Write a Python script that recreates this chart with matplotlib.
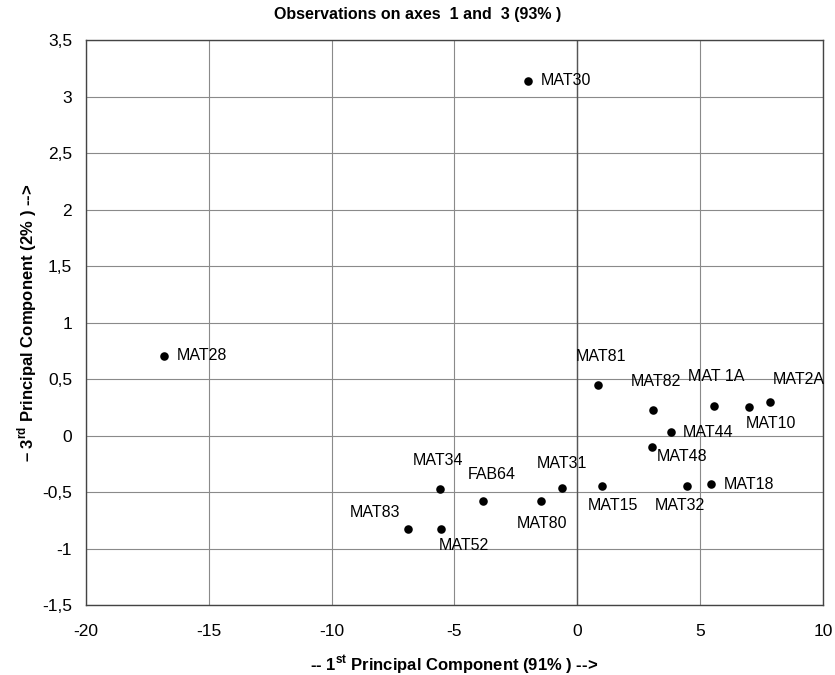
import matplotlib
matplotlib.use('Agg')
import matplotlib.pyplot as plt

plt.rcParams['font.family'] = ['Liberation Sans', 'DejaVu Sans']
plt.rcParams['mathtext.fontset'] = 'custom'
plt.rcParams['mathtext.rm'] = 'Liberation Sans'
plt.rcParams['mathtext.bf'] = 'Liberation Sans:bold'

# observations: coordinates on axis 1 (x) and axis 3 (y)
names = ['MAT30', 'MAT28', 'MAT81', 'MAT82', 'MAT 1A', 'MAT10', 'MAT2A', 'MAT44',
         'MAT48', 'MAT18', 'MAT32', 'MAT15', 'MAT31', 'MAT80', 'FAB64', 'MAT34',
         'MAT52', 'MAT83']
pc1 = [-1.99, -16.81, 0.86, 3.09, 5.58, 6.97, 7.86, 3.80,
       3.02, 5.45, 4.45, 1.00, -0.63, -1.48, -3.83, -5.61,
       -5.53, -6.89]
pc3 = [3.14, 0.705, 0.45, 0.23, 0.26, 0.255, 0.30, 0.03,
       -0.10, -0.43, -0.45, -0.45, -0.465, -0.58, -0.58, -0.47,
       -0.83, -0.83]

xticks = [-20, -15, -10, -5, 0, 5, 10]
yticks = [-1.5, -1, -0.5, 0, 0.5, 1, 1.5, 2, 2.5, 3, 3.5]

# label placement (offset in points, alignment)
label_pos = {
    'MAT30': ((9, 0), 'left', 'center'),
    'MAT28': ((9, 0), 'left', 'center'),
    'MAT81': ((2, 20), 'center', 'center'),
    'MAT82': ((2, 20), 'center', 'center'),
    'MAT 1A': ((1, 21), 'center', 'center'),
    'MAT10': ((16, -12), 'center', 'center'),
    'MAT2A': ((2, 16), 'left', 'center'),
    'MAT44': ((9, 0), 'left', 'center'),
    'MAT48': ((4, -7), 'left', 'center'),
    'MAT18': ((9, 0), 'left', 'center'),
    'MAT32': ((-5, -14), 'center', 'center'),
    'MAT15': ((8, -14), 'center', 'center'),
    'MAT31': ((0, 18), 'center', 'center'),
    'MAT80': ((1, -16), 'center', 'center'),
    'FAB64': ((6, 19), 'center', 'center'),
    'MAT34': ((-1, 20), 'center', 'center'),
    'MAT52': ((16, -12), 'center', 'center'),
    'MAT83': ((-24, 12), 'center', 'center'),
}

fig = plt.figure(figsize=(8.35, 6.75), dpi=100)
ax = fig.add_axes([0.103, 0.1037, 0.8826, 0.837])

ax.scatter(pc1, pc3, s=38, color='black', zorder=3, linewidths=0)
for n, x, y in zip(names, pc1, pc3):
    off, ha, va = label_pos[n]
    ax.annotate(n, (x, y), xytext=off, textcoords='offset points',
                ha=ha, va=va, fontsize=11.5, zorder=4)

ax.set_xlim(-20, 10)
ax.set_ylim(-1.5, 3.5)
ax.set_xticks(xticks)
ax.set_yticks(yticks)
ax.set_xticklabels([f'{t:g}' for t in xticks], fontsize=12.5)
ax.set_yticklabels([f'{t:g}'.replace('.', ',') for t in yticks], fontsize=12.5)
ax.tick_params(axis='x', length=0, pad=14)
ax.tick_params(axis='y', length=0, pad=10)
ax.grid(True, color='#8a8a8a', linewidth=0.8)
ax.set_axisbelow(True)
ax.axvline(0, color='#555555', linewidth=1.0, zorder=1)
for sp in ax.spines.values():
    sp.set_color('#444444')
    sp.set_linewidth(1.0)

ax.set_xlabel(r'-- 1$^{\mathbf{st}}$ Principal Component (91% ) -->',
              fontsize=12, fontweight='bold', labelpad=10)
ax.set_ylabel('\u2013 3$^{\\mathbf{rd}}$ Principal Component (2% ) -->',
              fontsize=12, fontweight='bold', labelpad=2)
fig.text(0.5, 0.978, 'Observations on axes  1 and  3 (93% )', ha='center', va='center',
         fontsize=11.5, fontweight='bold')

fig.savefig('out.png', dpi=100)
